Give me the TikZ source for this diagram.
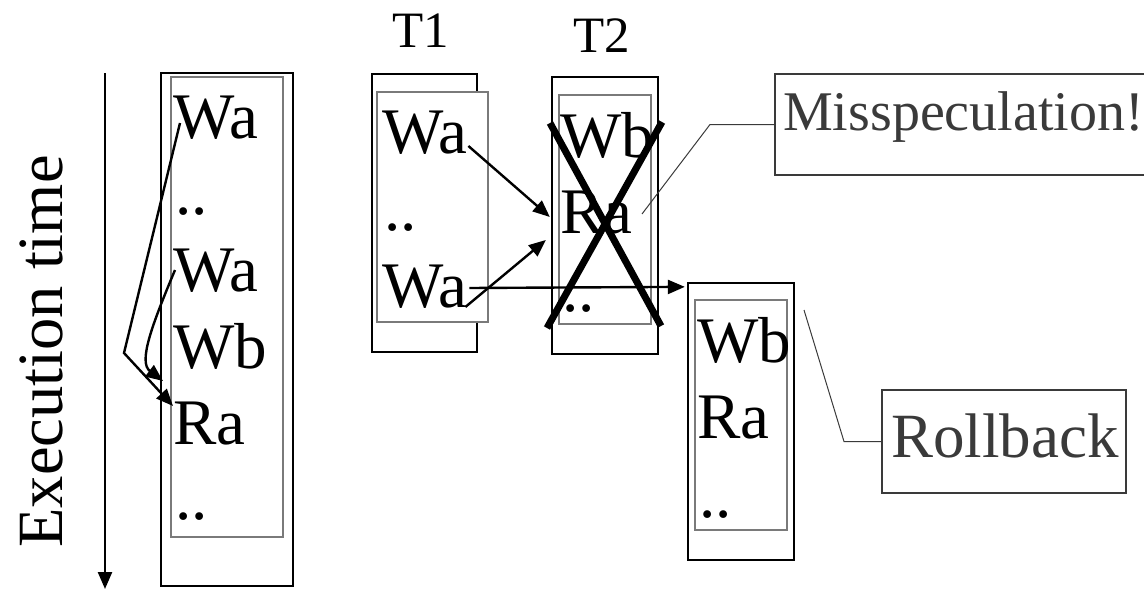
\documentclass[tikz,border=0pt]{standalone}
\usepackage{fontspec}
\setmainfont{Liberation Serif}
\usetikzlibrary{arrows.meta,calc}
\definecolor{callgray}{HTML}{3A3A3A}
\definecolor{innergray}{HTML}{7A7A7A}
\begin{document}
\begin{tikzpicture}[x=1pt,y=-1pt,
  obox/.style={draw=black, line width=2.3pt, fill=white, inner sep=0pt},
  ibox/.style={draw=innergray, line width=1.3pt, fill=white, inner sep=0pt},
  txt/.style={anchor=base west, inner sep=0pt, font=\fontsize{65}{76}\selectfont},
  lbl/.style={anchor=base, inner sep=0pt, font=\fontsize{51}{60}\selectfont},
  arr/.style={line width=2.4pt, -{Triangle[length=17pt,width=14pt]}},
  lead/.style={draw=callgray, line width=1pt},
  callbox/.style={draw=callgray, line width=1.3pt, inner sep=0pt},
  calltxt/.style={anchor=base west, inner sep=0pt, text=callgray},
  crossline/.style={line width=7pt, line cap=butt}]
\useasboundingbox (0,0) rectangle (1144,589);
\begin{scope}
\clip (0,0) rectangle (1144,589);

% time axis
\coordinate (tstart) at (105,73);
\coordinate (tend) at (105,589);
\draw[arr] (tstart) -- (tend);
\node[rotate=90, anchor=base, inner sep=0pt, font=\fontsize{64.5}{76}\selectfont] (exec) at (62,351.5) {Execution time};

% left (sequential) box
\node[obox, minimum width=132pt, minimum height=513pt] (lout) at (227,329.5) {};
\node[ibox, minimum width=112pt, minimum height=460pt] (lin) at (227,307) {};
\node[txt] (lwa1) at (173,138) {Wa};
\node[txt] (ldd1) at (175,214) {..};
\node[txt] (lwa2) at (173,291) {Wa};
\node[txt] (lwb) at (173,368) {Wb};
\node[txt] (lra) at (173,444) {Ra};
\node[txt] (ldd2) at (175,519) {..};

% T1
\node[lbl] (t1lbl) at (421,47) {T1};
\node[obox, minimum width=105pt, minimum height=278pt] (t1out) at (424.5,213) {};
\node[ibox, minimum width=111pt, minimum height=230pt] (t1in) at (432.5,207) {};
\node[txt] (t1wa1) at (382,153) {Wa};
\node[txt] (t1dd) at (384,230) {..};
\node[txt] (t1wa2) at (382,307) {Wa};

% T2
\node[lbl] (t2lbl) at (602,52) {T2};
\node[obox, minimum width=106pt, minimum height=277pt] (t2out) at (605,215.5) {};
\node[ibox, minimum width=92pt, minimum height=229pt] (t2in) at (605,209.5) {};
\node[txt] (t2wb) at (560,157) {Wb};
\node[txt] (t2ra) at (560,233) {Ra};
\node[txt] (t2dd) at (562,311) {..};

% cross over T2
\draw[crossline] (550,123) -- (661,326);
\draw[crossline] (662,122) -- (547,328);

% T2 re-executed
\node[obox, minimum width=106pt, minimum height=277pt] (t3out) at (741,421.5) {};
\node[ibox, minimum width=92pt, minimum height=230pt] (t3in) at (741,415) {};
\node[txt] (t3wb) at (697,362) {Wb};
\node[txt] (t3ra) at (697,438) {Ra};
\node[txt] (t3dd) at (699,517) {..};

% dependence arrows, left box
\draw[arr] ([xshift=7pt,yshift=15pt]lwa1.base west) -- (124,353) -- ([yshift=38pt]lra.base west);
\draw[arr] ([xshift=2pt,yshift=21pt]lwa2.base west) .. controls (152,325) and (138,362) .. (163,381);

% arrows T1 -> T2 and T1 -> T3
\draw[arr] ([xshift=1pt,yshift=7pt]t1wa1.base east) -- ([xshift=-1pt,yshift=-1.5pt]t2out.west);
\draw[arr] ([xshift=-2pt,yshift=0pt]t1wa2.base east) -- ([xshift=-5pt,yshift=-24.5pt]t2out.west);
\draw[arr] ([xshift=2pt,yshift=19pt]t1wa2.base east) -- ([xshift=-2pt,yshift=-5pt]t3out.north west);

% callouts
\node[callbox, minimum width=375pt, minimum height=101pt] (misbox) at (962.5,124.5) {};
\node[calltxt, font=\fontsize{56}{66}\selectfont] (mistxt) at (783,130) {Misspeculation!};
\coordinate (misfrom) at (642,214);
\coordinate (misbend) at (710,124.5);
\draw[lead] (misfrom) -- (misbend) -- (misbox.west);

\node[callbox, minimum width=244pt, minimum height=103pt] (rbbox) at (1004,441.5) {};
\node[calltxt, font=\fontsize{63}{74}\selectfont] (rbtxt) at (891,457) {Rollback};
\coordinate (rbfrom) at (804,310);
\coordinate (rbbend) at (844,441.5);
\draw[lead] (rbfrom) -- (rbbend) -- (rbbox.west);
\end{scope}
\end{tikzpicture}
\end{document}
